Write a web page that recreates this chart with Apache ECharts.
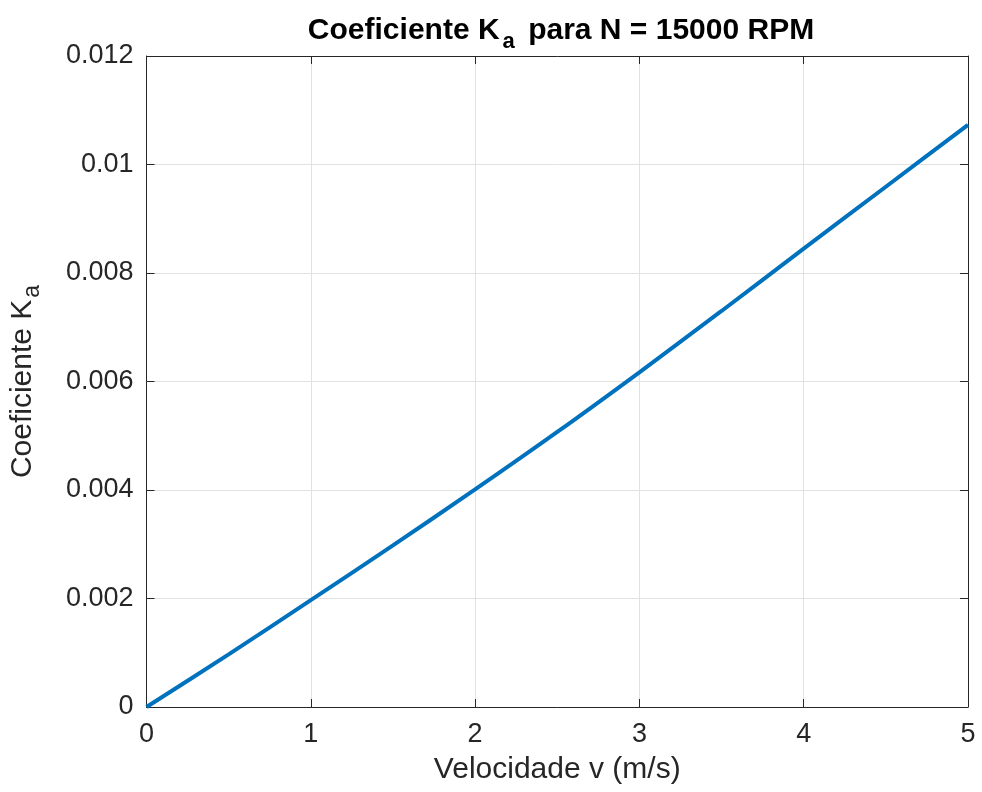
<!DOCTYPE html>
<html><head><meta charset="utf-8">
<script src="https://cdn.jsdelivr.net/npm/echarts@6/dist/echarts.min.js"></script>
<style>html,body{margin:0;padding:0;background:#fff}#c{width:982px;height:792px}</style>
</head><body><div id="c"></div>
<script>
const velocity = [0, 0.5, 1, 1.5, 2, 2.5, 3, 3.5, 4, 4.5, 5];
const ka = [0, 0.00097, 0.00197, 0.00298, 0.00401, 0.00507, 0.00617, 0.00730, 0.00845, 0.00959, 0.01073];
const xTicks = [0, 1, 2, 3, 4, 5];
const yTicks = [0, 0.002, 0.004, 0.006, 0.008, 0.01, 0.012];

const FONT = '"Liberation Sans", Arial, sans-serif';
const AX = '#262626';
const chart = echarts.init(document.getElementById('c'));
const baseAxis = {
  axisLine: {show: true, onZero: false, lineStyle: {color: AX, width: 1}},
  axisTick: {show: true, inside: true, length: 8, lineStyle: {color: AX}},
  splitLine: {show: false}
};
chart.setOption({
  animation: false,
  title: {
    text: '{t|Coeficiente K}{s|a}{t| para N = 15000 RPM}',
    left: 556, top: 4, textAlign: 'center',
    textStyle: {
      rich: {
        t: {fontFamily: FONT, fontSize: 30, fontWeight: 'bold', color: '#000'},
        s: {fontFamily: FONT, fontSize: 22, fontWeight: 'bold', color: '#000', verticalAlign: 'bottom', padding: [22, 5, 0, 3]}
      }
    }
  },
  grid: {left: 146, right: 14, top: 56, bottom: 85, show: false},
  xAxis: [{
    ...baseAxis, type: 'value', min: xTicks[0], max: xTicks[xTicks.length-1], interval: 1,
    position: 'bottom',
    splitLine: {show: true, lineStyle: {color: '#e2e2e2', width: 1}},
    axisLabel: {fontFamily: FONT, fontSize: 27, color: AX, margin: 14},
    name: 'Velocidade v (m/s)', nameLocation: 'middle', nameGap: 48,
    nameTextStyle: {fontFamily: FONT, fontSize: 30, color: AX}
  }, {
    ...baseAxis, type: 'value', min: 0, max: 5, interval: 1, position: 'top',
    axisLabel: {show: false}
  }],
  yAxis: [{
    ...baseAxis, type: 'value', min: yTicks[0], max: yTicks[yTicks.length-1], interval: 0.002,
    position: 'left',
    splitLine: {show: true, lineStyle: {color: '#e2e2e2', width: 1}},
    axisLabel: {fontFamily: FONT, fontSize: 27, color: AX, margin: 13,
      formatter: v => { const i = yTicks.findIndex(t => Math.abs(t - v) < 1e-9); return i >= 0 ? String(yTicks[i]) : ''; }},
    name: '{t|Coeficiente K}{s|a}', nameLocation: 'middle', nameGap: 102,
    nameTextStyle: {
      rich: {
        t: {fontFamily: FONT, fontSize: 30, color: AX},
        s: {fontFamily: FONT, fontSize: 23, color: AX, verticalAlign: 'bottom', padding: [20, 0, 0, 2]}
      }
    }
  }, {
    ...baseAxis, type: 'value', min: 0, max: 0.012, interval: 0.002, position: 'right',
    axisLabel: {show: false}
  }],
  series: [{
    type: 'line', xAxisIndex: 0, yAxisIndex: 0,
    data: velocity.map((v, i) => [v, ka[i]]),
    smooth: 0.3, showSymbol: false,
    lineStyle: {color: '#0072BD', width: 4}
  }]
});
</script></body></html>
